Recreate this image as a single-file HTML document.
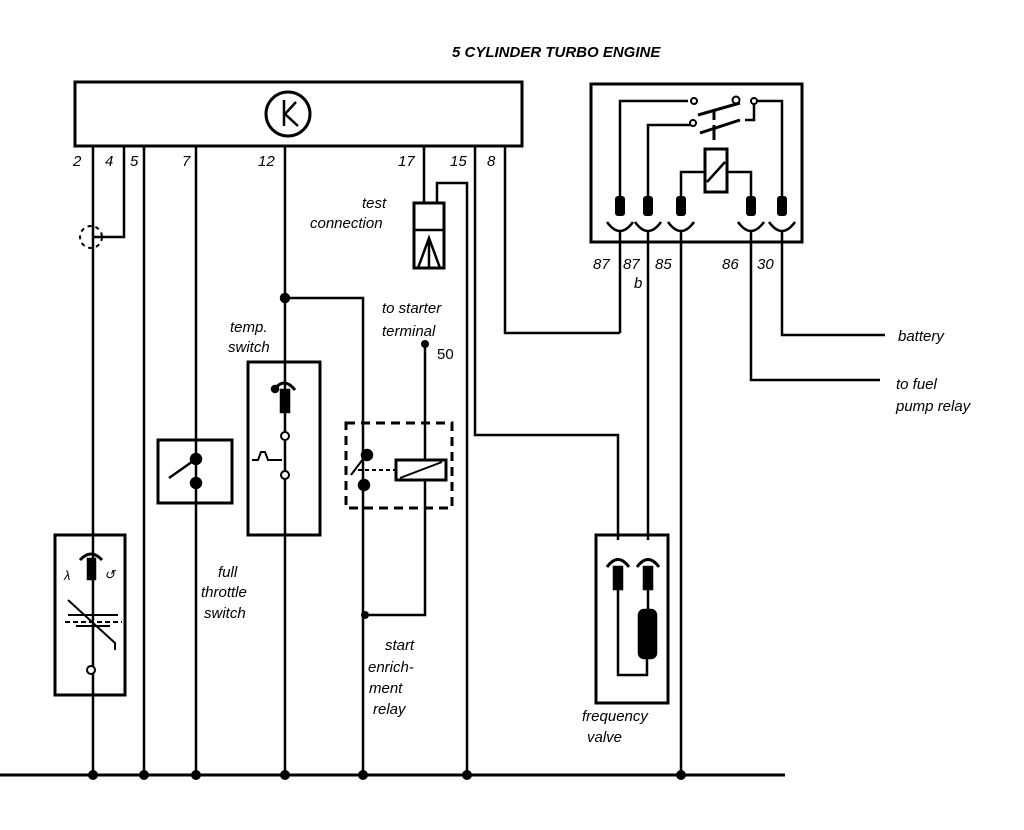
<!DOCTYPE html>
<html><head><meta charset="utf-8"><style>
html,body{margin:0;padding:0;background:#fff;}
svg{display:block;}
text{font-family:"Liberation Sans",sans-serif;font-style:italic;font-size:15px;fill:#000;}
</style></head><body>
<svg width="1024" height="830" viewBox="0 0 1024 830" xmlns="http://www.w3.org/2000/svg" fill="none" stroke="#000" stroke-width="2.5">
<text x="452" y="57" stroke="none" style="font-weight:bold">5 CYLINDER TURBO ENGINE</text>
<!-- ECU -->
<rect x="75" y="82" width="447" height="64" stroke-width="3"/>
<circle cx="288" cy="114" r="22" stroke-width="3"/>
<path d="M284 100 V126 M296 102 L285 114 L298 126"/>
<g stroke="none">
<text x="73" y="166">2</text><text x="105" y="166">4</text><text x="130" y="166">5</text>
<text x="182" y="166">7</text><text x="258" y="166">12</text><text x="398" y="166">17</text>
<text x="450" y="166">15</text><text x="487" y="166">8</text>
</g>
<!-- wires from ECU -->
<path d="M93 146 V775 M124 146 V237 H93 M144 146 V775 M196 146 V775 M285 146 V775"/>
<circle cx="91" cy="237" r="11" stroke-dasharray="4 4" stroke-width="2"/>
<path d="M424 146 V203 M437 203 V183 H467 V775 M475 146 V435 H618 V540 M505 146 V333 H620"/>
<!-- test connection -->
<rect x="414" y="203" width="30" height="65" stroke-width="3"/>
<path d="M414 230 H444 M418 268 L429 238 L440 268 M429 238 V268"/>
<text x="362" y="208" stroke="none">test</text>
<text x="310" y="228" stroke="none">connection</text>
<!-- temp switch link -->
<path d="M285 298 H363 V775"/>
<circle cx="285" cy="298" r="4" fill="#000"/>
<text x="230" y="332" stroke="none">temp.</text>
<text x="228" y="352" stroke="none">switch</text>
<text x="382" y="313" stroke="none">to starter</text>
<text x="382" y="336" stroke="none">terminal</text>
<text x="437" y="359" stroke="none" style="font-style:normal">50</text>
<circle cx="425" cy="344" r="4" fill="#000" stroke="none"/>
<path d="M425 344 V615 H365"/>
<circle cx="365" cy="615" r="4" fill="#000" stroke="none"/>
<!-- lambda box -->
<rect x="55" y="535" width="70" height="160" stroke-width="3"/>
<path d="M80 560 Q91 548 102 560" stroke-width="3"/>
<rect x="88" y="559" width="7" height="20" fill="#000"/>
<path d="M68 615 H118 M62 622 H122" stroke-width="2"/>
<path d="M62 622 H122" stroke="#fff" stroke-dasharray="3 5" stroke-width="3"/>
<path d="M76 626 H110 M68 600 L115 643 V650" stroke-width="2"/>
<circle cx="91" cy="670" r="4" fill="#fff" stroke-width="2"/>
<text x="64" y="580" stroke="none" style="font-size:13px">λ</text>
<text x="104" y="579" stroke="none" style="font-size:13px">↺</text>
<!-- full throttle -->
<rect x="158" y="440" width="74" height="63" stroke-width="3"/>
<path d="M169 478 L196 459"/>
<circle cx="196" cy="459" r="5" fill="#000"/>
<circle cx="196" cy="483" r="5" fill="#000"/>
<text x="218" y="577" stroke="none">full</text>
<text x="201" y="597" stroke="none">throttle</text>
<text x="204" y="618" stroke="none">switch</text>
<!-- temp switch box -->
<rect x="248" y="362" width="72" height="173" stroke-width="3"/>
<path d="M274 390 Q284 376 295 390" stroke-width="3"/>
<circle cx="275" cy="389" r="3" fill="#000"/>
<rect x="281" y="390" width="8" height="22" fill="#000"/>
<circle cx="285" cy="436" r="4" fill="#fff" stroke-width="2"/>
<circle cx="285" cy="475" r="4" fill="#fff" stroke-width="2"/>
<path d="M252 460 H258 L261 452 H265 L268 460 H282" stroke-width="2"/>
<!-- start enrichment relay -->
<rect x="346" y="423" width="106" height="85" stroke-dasharray="9 6" stroke-width="3"/>
<path d="M351 475 L366 455" stroke-width="2"/>
<circle cx="367" cy="455" r="5" fill="#000"/>
<circle cx="364" cy="485" r="5" fill="#000"/>
<path d="M358 470 H395" stroke-dasharray="4 3" stroke-width="2"/>
<rect x="396" y="460" width="50" height="20" fill="#fff" stroke-width="3"/>
<path d="M400 478 L442 462" stroke-width="2"/>
<text x="385" y="650" stroke="none">start</text>
<text x="368" y="672" stroke="none">enrich-</text>
<text x="369" y="693" stroke="none">ment</text>
<text x="373" y="714" stroke="none">relay</text>
<!-- relay box -->
<rect x="591" y="84" width="211" height="158" stroke-width="3"/>
<path d="M620 200 V101 H688 M648 200 V125 H690 M782 200 V101 H754 M754 101 V120 H745"/>
<circle cx="694" cy="101" r="3" fill="#fff" stroke-width="2"/>
<circle cx="736" cy="100" r="3.5" fill="#fff" stroke-width="2"/>
<circle cx="754" cy="101" r="3" fill="#fff" stroke-width="2"/>
<circle cx="693" cy="123" r="3" fill="#fff" stroke-width="2"/>
<path d="M698 115 L740 103 M700 133 L740 120 M714 110 V120 M714 125 V140" stroke-width="3"/>
<rect x="705" y="149" width="22" height="43" stroke-width="3"/>
<path d="M707 182 L725 162 M705 172 H681 V200 M727 172 H751 V200"/>
<g fill="#000" stroke="none">
<rect x="615" y="196" width="10" height="20" rx="3"/><rect x="643" y="196" width="10" height="20" rx="3"/>
<rect x="676" y="196" width="10" height="20" rx="3"/><rect x="746" y="196" width="10" height="20" rx="3"/>
<rect x="777" y="196" width="10" height="20" rx="3"/>
</g>
<path d="M607 222 Q620 240 633 222 M635 222 Q648 240 661 222 M668 222 Q681 240 694 222 M738 222 Q751 240 764 222 M769 222 Q782 240 795 222"/>
<path d="M620 232 V333 M648 232 V540 M681 232 V775 M751 232 V380 H880 M782 232 V335 H885"/>
<g stroke="none">
<text x="593" y="269">87</text><text x="623" y="269">87</text><text x="655" y="269">85</text>
<text x="722" y="269">86</text><text x="757" y="269">30</text><text x="634" y="288">b</text>
<text x="898" y="341">battery</text>
<text x="896" y="389">to fuel</text>
<text x="896" y="411">pump relay</text>
</g>
<!-- frequency valve -->
<rect x="596" y="535" width="72" height="168" stroke-width="3"/>
<path d="M607 567 Q618 552 629 567 M637 567 Q648 552 659 567" stroke-width="3"/>
<rect x="614" y="567" width="8" height="22" fill="#000"/>
<rect x="644" y="567" width="8" height="22" fill="#000"/>
<rect x="639" y="610" width="17" height="48" rx="5" fill="#000"/>
<path d="M618 589 V675 H647 V658 M648 589 V610"/>
<text x="582" y="721" stroke="none">frequency</text>
<text x="587" y="742" stroke="none">valve</text>
<!-- ground -->
<path d="M0 775 H785" stroke-width="3"/>
<g fill="#000" stroke="none">
<circle cx="93" cy="775" r="5"/><circle cx="144" cy="775" r="5"/><circle cx="196" cy="775" r="5"/>
<circle cx="285" cy="775" r="5"/><circle cx="363" cy="775" r="5"/><circle cx="467" cy="775" r="5"/>
<circle cx="681" cy="775" r="5"/>
</g>
</svg>
</body></html>
